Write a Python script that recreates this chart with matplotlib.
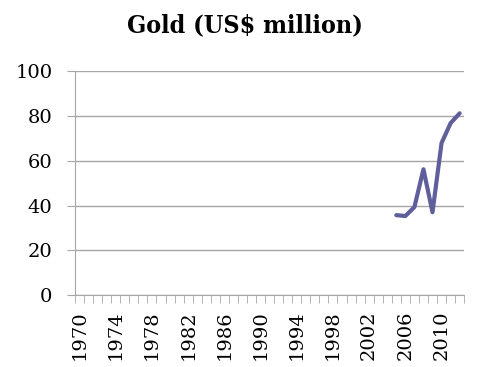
import numpy as np
import matplotlib
matplotlib.use("Agg")
from matplotlib import pyplot as plt

years = list(range(1970, 2013))
gold_years = [2005, 2006, 2007, 2008, 2009, 2010, 2011, 2012]
gold_values = [35.7, 35.3, 39.3, 56.2, 37.0, 67.9, 76.8, 81.2]

plt.rcParams['font.family'] = ['DejaVu Serif']

fig = plt.figure(figsize=(4.81, 3.67), dpi=100)
ax = fig.add_axes([0.156, 0.196, 0.809, 0.610])

# category positions, one slot per year
xs = [years.index(y) for y in gold_years]
ax.plot(xs, gold_values, color='#5f5f9c', linewidth=3.0, solid_capstyle='round',
        solid_joinstyle='round', zorder=3)

ax.set_xlim(-0.5, len(years) - 0.5)
ax.set_ylim(0, 100)
ax.set_yticks(np.arange(0, 101, 20))
ax.yaxis.grid(True, color='#a6a6a6', linewidth=1.0)
ax.set_axisbelow(True)

# labels every 4 years, tick marks between categories
label_pos = list(range(0, len(years), 4))
ax.set_xticks(label_pos)
ax.set_xticklabels([str(years[i]) for i in label_pos], rotation=90)
ax.set_xticks(np.arange(-0.5, len(years), 1.0), minor=True)
ax.tick_params(axis='x', which='major', length=0, pad=11, labelsize=14)
ax.tick_params(axis='x', which='minor', length=5.8, color='#a6a6a6', direction='out')
ax.tick_params(axis='y', length=5.8, color='#a6a6a6', labelsize=14, pad=10.5)

for side in ['top', 'right']:
    ax.spines[side].set_visible(False)
for side in ['left', 'bottom']:
    ax.spines[side].set_color('#a6a6a6')

fig.text(0.509, 0.932, 'Gold (US$ million)', ha='center', va='center',
         fontsize=18, fontweight='bold', fontstretch='condensed')

fig.savefig('out.png', dpi=100)
